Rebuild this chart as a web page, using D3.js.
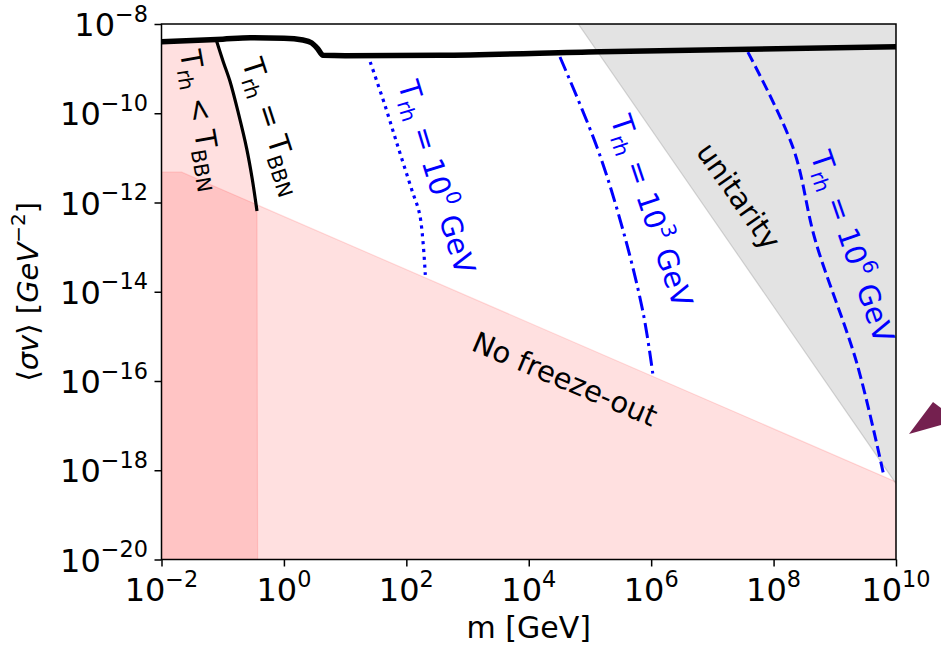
<!DOCTYPE html>
<html>
<head>
<meta charset="utf-8">
<script src="https://cdn.jsdelivr.net/npm/d3@7"></script>
<style>
  html, body { margin: 0; padding: 0; background: #fff; }
  svg { display: block; font-family: "DejaVu Sans", sans-serif; }
</style>
</head>
<body>
<svg id="chart" width="941" height="648"></svg>
<script>
// ---- Data (log10 values) ----
const xTickExps = [-2, 0, 2, 4, 6, 8, 10];
const yTickExps = [-8, -10, -12, -14, -16, -18, -20];

// thick black upper boundary (log10 m, log10 <sigma v>)
const topLineX = [-2, -1.0, -0.55, 0.0, 0.31, 0.45, 0.55, 0.64, 1.0, 2.55, 5.16, 10];
const topLineY = [-8.40, -8.34, -8.31, -8.32, -8.36, -8.42, -8.55, -8.70, -8.71, -8.70, -8.62, -8.51];

// T_rh = T_BBN curve
const bbnX = [-1.10, -0.99, -0.88, -0.74, -0.61, -0.52, -0.44];
const bbnY = [-8.38, -8.85, -9.29, -10.02, -10.78, -11.45, -12.19];

// No freeze-out boundary
const nfoX = [-2, -1.67, 10];
const nfoY = [-11.32, -11.32, -18.26];

// unitarity boundary
const uniX = [4.81, 10, 10];
const uniY = [-8, -8, -18.30];

// T_rh = 10^0 GeV (dotted)
const t0X = [1.41, 1.65, 1.87, 2.09, 2.22, 2.31];
const t0Y = [-8.85, -9.82, -10.78, -11.72, -12.28, -13.62];
// T_rh = 10^3 GeV (dash-dot)
const t3X = [4.51, 5.12, 5.54, 5.87, 6.03];
const t3Y = [-8.74, -10.78, -12.62, -14.48, -15.87];
// T_rh = 10^6 GeV (dashed)
const t6X = [7.58, 8.32, 8.68, 9.36, 9.79];
const t6Y = [-8.63, -10.78, -12.84, -15.60, -18.05];

// in-plot labels: [parts, anchor x exp, anchor y exp, angle, colour]
const labels = [
  { parts: [["T",""],["rh","sub"],[" < T",""],["BBN","sub"]], x: -1.70, y: -8.63, angle: 80, color: "#000" },
  { parts: [["T",""],["rh","sub"],[" = T",""],["BBN","sub"]], x: -0.69, y: -8.85, angle: 72, color: "#000" },
  { parts: [["T",""],["rh","sub"],[" = 10",""],["0","sup"],[" GeV",""]], x: 1.86, y: -9.35, angle: 73, color: "#0000ff" },
  { parts: [["T",""],["rh","sub"],[" = 10",""],["3","sup"],[" GeV",""]], x: 5.33, y: -10.13, angle: 71.5, color: "#0000ff" },
  { parts: [["unitarity",""]], x: 6.72, y: -10.86, angle: 55, color: "#000" },
  { parts: [["T",""],["rh","sub"],[" = 10",""],["6","sup"],[" GeV",""]], x: 8.60, y: -10.94, angle: 71, color: "#0000ff" },
  { parts: [["No freeze-out",""]], x: 3.04, y: -15.30, angle: 23, color: "#000" }
];

// ---- Layout ----
const svg = d3.select("#chart");
const L = 161.5, R = 896, T = 24, B = 559.5;
const x = d3.scaleLinear().domain([-2, 10]).range([L, R]);
const y = d3.scaleLinear().domain([-20, -8]).range([B, T]);

const zip = (a, b) => a.map((v, i) => [v, b[i]]);

svg.append("defs").append("clipPath").attr("id", "clip")
  .append("rect").attr("x", L).attr("y", T).attr("width", R - L).attr("height", B - T);

const g = svg.append("g").attr("clip-path", "url(#clip)");

const topPts = zip(topLineX, topLineY);
const lineLin = d3.line().x(d => x(d[0])).y(d => y(d[1]));

// No freeze-out region
const nfoPoly = [[-2, -20]].concat(zip(nfoX, nfoY)).concat([[10, -20]]);
g.append("path").attr("d", lineLin(nfoPoly) + "Z")
  .attr("fill", "#ff0000").attr("fill-opacity", 0.12)
  .attr("stroke", "#ff0000").attr("stroke-opacity", 0.12).attr("stroke-width", 1.2);

// BBN region: left of the T_rh = T_BBN curve
const bbnPts = zip(bbnX, bbnY);
const topLeft = topPts.filter(d => d[0] < bbnX[0]);
const bbnPoly = [[-2, -20]].concat(topLeft).concat(bbnPts).concat([[bbnX[bbnX.length - 1] + 0.01, -20]]);
g.append("path").attr("d", lineLin(bbnPoly) + "Z")
  .attr("fill", "#ff0000").attr("fill-opacity", 0.12)
  .attr("stroke", "#ff0000").attr("stroke-opacity", 0.12).attr("stroke-width", 1.2);

// unitarity region
g.append("path").attr("d", lineLin(zip(uniX, uniY)) + "Z")
  .attr("fill", "#808080").attr("fill-opacity", 0.22)
  .attr("stroke", "#808080").attr("stroke-opacity", 0.3).attr("stroke-width", 1.2);

// Blue T_rh curves
const curveLine = d3.line().x(d => x(d[0])).y(d => y(d[1])).curve(d3.curveCatmullRom.alpha(0.5));
g.append("path").attr("d", curveLine(zip(t0X, t0Y)))
  .attr("fill", "none").attr("stroke", "#0000ff").attr("stroke-width", 3.2)
  .attr("stroke-dasharray", "3.2,4.6");
g.append("path").attr("d", curveLine(zip(t3X, t3Y)))
  .attr("fill", "none").attr("stroke", "#0000ff").attr("stroke-width", 3)
  .attr("stroke-dasharray", "15,5,3,5");
g.append("path").attr("d", curveLine(zip(t6X, t6Y)))
  .attr("fill", "none").attr("stroke", "#0000ff").attr("stroke-width", 3)
  .attr("stroke-dasharray", "11,5");

// BBN black curve
g.append("path").attr("d", curveLine(bbnPts))
  .attr("fill", "none").attr("stroke", "#000").attr("stroke-width", 3.2);

// top thick black line
g.append("path").attr("d", d3.line().x(d => x(d[0])).y(d => y(d[1])).curve(d3.curveMonotoneX)(topPts))
  .attr("fill", "none").attr("stroke", "#000").attr("stroke-width", 5.5);

// ---- rich text helper ----
function rich(textSel, parts, fs) {
  let cur = 0;
  parts.forEach(([t, mode]) => {
    let target = 0, size = fs;
    if (mode === "sub") { target = 0.22 * fs; size = 0.7 * fs; }
    if (mode === "sup") { target = -0.45 * fs; size = 0.7 * fs; }
    const ts = textSel.append("tspan").text(t).attr("font-size", size);
    if (target !== cur) ts.attr("dy", target - cur);
    cur = target;
  });
}

// in-plot labels
const labelFs = 29;
labels.forEach(lb => {
  const t = svg.append("text")
    .attr("transform", `translate(${x(lb.x)},${y(lb.y)}) rotate(${lb.angle})`)
    .attr("fill", lb.color).attr("font-size", labelFs)
    .style("white-space", "pre");
  rich(t, lb.parts, labelFs);
});

// ---- Axes ----
const xAxis = d3.axisBottom(x).tickValues(xTickExps).tickSize(7).tickFormat("");
const gx = svg.append("g").attr("transform", `translate(0,${B})`).call(xAxis);
gx.select(".domain").remove();
gx.selectAll(".tick line").attr("stroke-width", 1.5);

const yAxis = d3.axisLeft(y).tickValues(yTickExps).tickSize(7).tickFormat("");
const gy = svg.append("g").attr("transform", `translate(${L},0)`).call(yAxis);
gy.select(".domain").remove();
gy.selectAll(".tick line").attr("stroke-width", 1.5);

// frame
svg.append("rect").attr("x", L).attr("y", T).attr("width", R - L).attr("height", B - T)
  .attr("fill", "none").attr("stroke", "#000").attr("stroke-width", 1.5);

const tickFs = 32;
xTickExps.forEach(e => {
  const t = svg.append("text").attr("x", x(e)).attr("y", 601)
    .attr("text-anchor", "middle").attr("font-size", tickFs).attr("fill", "#000");
  rich(t, [["10", ""], [String(e).replace("-", "\u2212"), "sup"]], tickFs);
});
yTickExps.forEach(e => {
  const t = svg.append("text").attr("x", 148).attr("y", y(e) + 12)
    .attr("text-anchor", "end").attr("font-size", tickFs).attr("fill", "#000");
  rich(t, [["10", ""], [String(e).replace("-", "\u2212"), "sup"]], tickFs);
});

// axis titles
svg.append("text").attr("x", (L + R) / 2).attr("y", 638)
  .attr("text-anchor", "middle").attr("font-size", 30).text("m [GeV]");

const yl = svg.append("text")
  .attr("transform", `translate(38,${(T + B) / 2}) rotate(-90)`)
  .attr("text-anchor", "middle").attr("font-size", 29).style("white-space", "pre");
yl.append("tspan").text("\u27E8");
yl.append("tspan").text("\u03C3v").attr("font-style", "italic");
yl.append("tspan").text("\u27E9 [");
yl.append("tspan").text("GeV").attr("font-style", "italic");
yl.append("tspan").text("\u22122").attr("font-size", 20).attr("dy", -13);
yl.append("tspan").text("]").attr("dy", 13);

// decorative arrow head at right edge
svg.append("path").attr("d", "M909,434 L933,402 L941,408 L941,425 Z").attr("fill", "#74204f");
</script>
</body>
</html>
